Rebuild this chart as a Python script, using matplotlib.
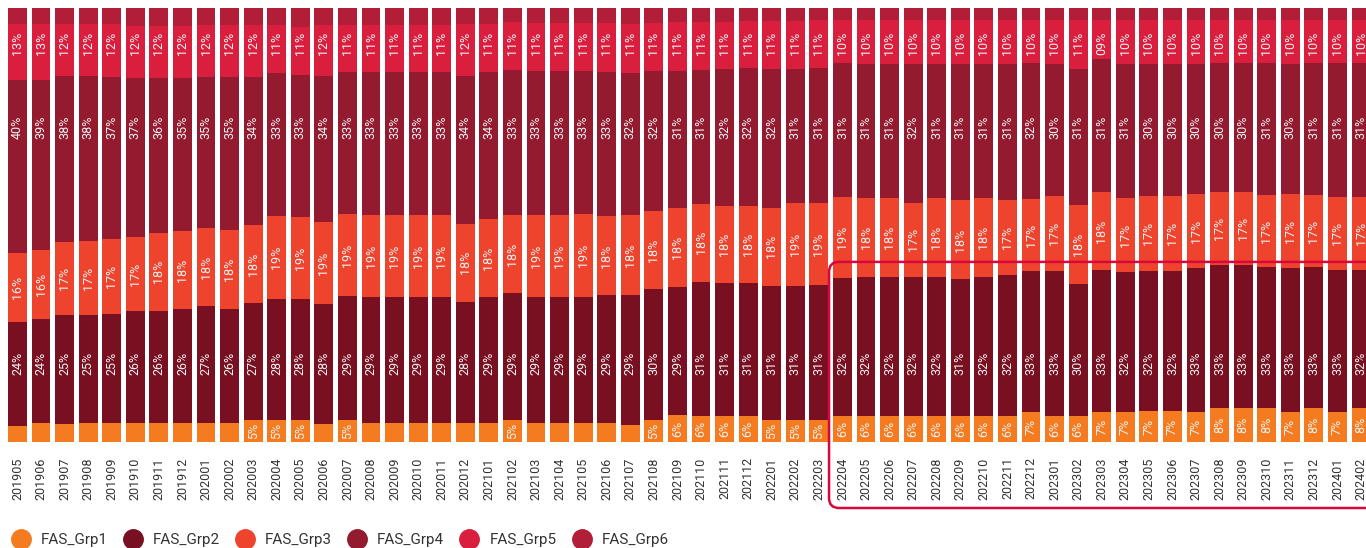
import matplotlib.pyplot as plt
import matplotlib.transforms as mtransforms
import numpy as np
from matplotlib.patches import FancyBboxPatch
from matplotlib.lines import Line2D

plt.rcParams['font.family'] = ['Roboto', 'DejaVu Sans']

# Months on the x axis
months = ["201905", "201906", "201907", "201908", "201909", "201910", "201911", "201912",
          "202001", "202002", "202003", "202004", "202005", "202006", "202007", "202008",
          "202009", "202010", "202011", "202012", "202101", "202102", "202103", "202104",
          "202105", "202106", "202107", "202108", "202109", "202110", "202111", "202112",
          "202201", "202202", "202203", "202204", "202205", "202206", "202207", "202208",
          "202209", "202210", "202211", "202212", "202301", "202302", "202303", "202304",
          "202305", "202306", "202307", "202308", "202309", "202310", "202311", "202312",
          "202401", "202402"]

# Shares in % (bottom to top of the stack)
grp1 = [3.7, 4.3, 4.1, 4.3, 4.3, 4.4, 4.4, 4.4, 4.4, 4.4, 5, 5, 5, 4.1, 5, 4.4, 4.4, 4.4, 4.4,
        4.3, 4.3, 5, 4.3, 4.3, 4.4, 4.4, 3.9, 5, 6, 6, 6, 6, 5, 5, 5, 6, 6, 6, 6, 6, 6, 6, 6,
        7, 6, 6, 7, 7, 7, 7, 7, 8, 8, 8, 7, 8, 7, 8]
grp2 = [24, 24, 25, 25, 25, 26, 26, 26, 27, 26, 27, 28, 28, 28, 29, 29, 29, 29, 29, 28, 29,
        29, 29, 29, 29, 29, 29, 30, 29, 31, 31, 31, 31, 31, 31, 32, 32, 32, 32, 32, 31, 32,
        32, 33, 33, 30, 33, 32, 32, 32, 33, 33, 33, 33, 33, 33, 33, 32]
grp3 = [16, 16, 17, 17, 17, 17, 18, 18, 18, 18, 18, 19, 19, 19, 19, 19, 19, 19, 19, 18, 18,
        18, 19, 19, 19, 18, 18, 18, 18, 18, 18, 18, 18, 19, 19, 19, 18, 18, 17, 18, 18, 18,
        17, 17, 17, 18, 18, 17, 17, 17, 17, 17, 17, 17, 17, 17, 17, 17]
grp4 = [40, 39, 38, 38, 37, 37, 36, 35, 35, 35, 34, 33, 33, 34, 33, 33, 33, 33, 33, 34, 34,
        33, 33, 33, 33, 33, 32, 32, 31, 31, 32, 32, 32, 31, 31, 31, 31, 31, 32, 31, 31, 31,
        31, 32, 30, 31, 31, 31, 30, 30, 30, 30, 30, 31, 30, 31, 31, 31]
grp5 = [13, 13, 12, 12, 12, 12, 12, 12, 12, 12, 12, 11, 11, 12, 11, 11, 11, 11, 11, 12, 11,
        11, 11, 11, 11, 11, 11, 11, 11, 11, 11, 11, 11, 11, 11, 10, 10, 10, 10, 10, 10, 10,
        10, 10, 10, 11, 9, 10, 10, 10, 10, 10, 10, 10, 10, 10, 10, 10]
grp6 = [3.7, 3.7, 3.7, 3.7, 3.7, 4.1, 4.1, 4.1, 3.9, 3.9, 3.9, 3.9, 4.4, 3.9, 3.9, 3.9, 3.9,
        3.9, 3.9, 3.7, 3.7, 3.2, 3.5, 3.5, 3.5, 3.5, 3.5, 3.5, 3.2, 3.2, 3.2, 3.0, 3.0, 3.0,
        2.8, 2.8, 2.8, 2.8, 2.8, 2.8, 2.8, 2.8, 2.8, 2.8, 2.8, 2.8, 2.8, 2.8, 2.8, 2.8, 2.8,
        2.8, 2.8, 2.8, 2.8, 2.8, 2.8, 2.8]

names = ["FAS_Grp1", "FAS_Grp2", "FAS_Grp3", "FAS_Grp4", "FAS_Grp5", "FAS_Grp6"]
colors = ["#F47B20", "#781022", "#EE432D", "#931A2F", "#DA1E3D", "#B21E37"]
series = [grp1, grp2, grp3, grp4, grp5, grp6]

# Label placement: fixed height for some series, centred in segment otherwise
labelY = {"FAS_Grp2": 18.2, "FAS_Grp4": 72.6, "FAS_Grp5": 91.9}
labelFmt = {"FAS_Grp5": "{:02.0f}%"}

fig = plt.figure(figsize=(13.66, 5.48), dpi=100)
ax = fig.add_axes([0, 106 / 548, 1, 434 / 548])

x = np.arange(len(months))
data = np.array(series, dtype=float)
total = data.sum(axis=0)
bottom = np.zeros(len(months))

for name, vals, color in zip(names, data, colors):
    h = vals / total * 100
    ax.bar(x, h, 0.8, bottom=bottom, color=color, linewidth=0)
    fmt = labelFmt.get(name, "{:.0f}%")
    for i, v in enumerate(vals):
        if round(v) >= 5:
            y = labelY.get(name, bottom[i] + h[i] / 2)
            ax.text(i, y, fmt.format(v), rotation=90, ha="center", va="center",
                    color="#f4f4f4", fontsize=9)
    bottom += h

ax.set_xlim(-0.742, 57.21)
ax.set_ylim(0, 100)
ax.set_xticks(x, months, rotation=90, fontsize=9, color="#333333")
ax.tick_params(axis="x", length=0, pad=11)
ax.set_yticks([])
for s in ax.spines.values():
    s.set_visible(False)

# Legend
handles = [Line2D([], [], marker="o", ls="", markersize=14, color=c) for c in colors]
fig.legend(handles, names, loc="center left", bbox_to_anchor=(0.004, 8 / 548), ncol=6,
           frameon=False, fontsize=11, handletextpad=0.3, columnspacing=0.65,
           borderaxespad=0, borderpad=0, labelcolor="#333333")

# Highlight box around the last period
fig.canvas.draw()
x0 = ax.transData.transform((34.43, 0))[0]
yTop = ax.transData.transform((0, 41.5))[1]
yBot = 40
box = FancyBboxPatch((x0, yBot), 1400 - x0, yTop - yBot,
                     boxstyle="round,pad=0,rounding_size=10",
                     transform=mtransforms.IdentityTransform(),
                     fill=False, edgecolor="#D9063C", linewidth=1.8)
fig.add_artist(box)

fig.savefig("out.png", dpi=100)
